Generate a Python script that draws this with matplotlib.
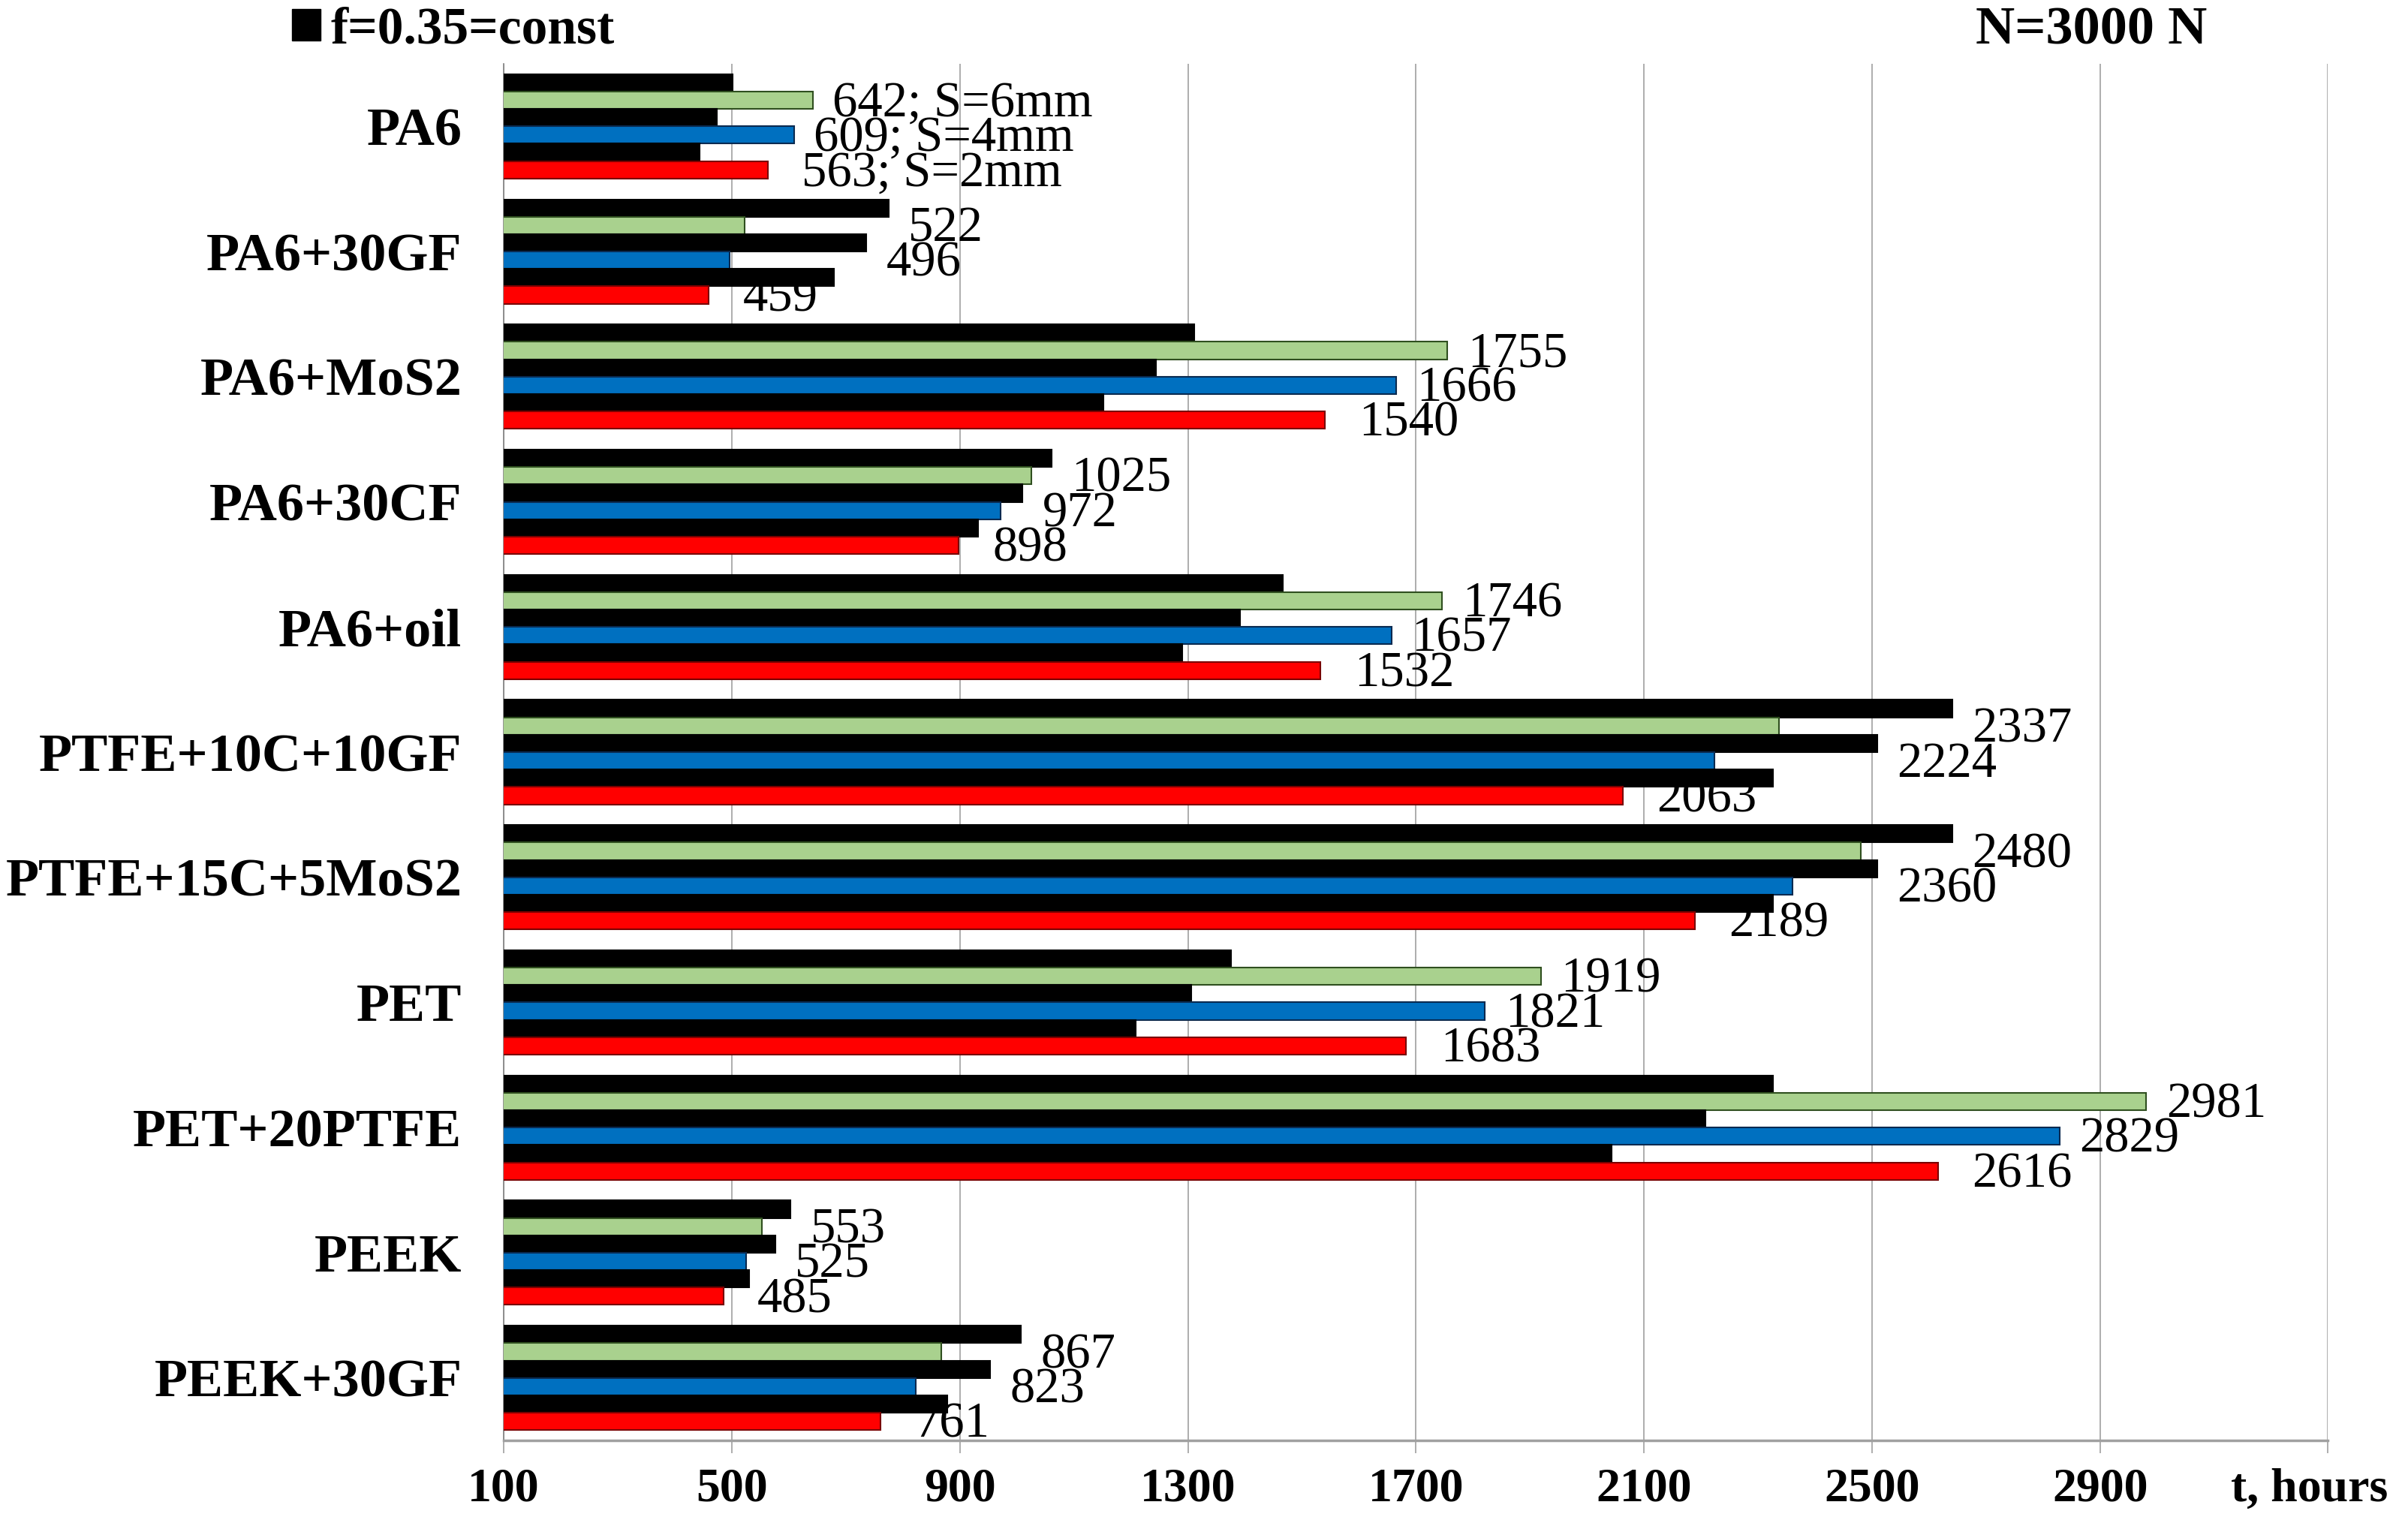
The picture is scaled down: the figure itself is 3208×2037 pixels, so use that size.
import numpy as np
import matplotlib.pyplot as plt
from matplotlib.patches import Patch

plt.rcParams['font.family'] = ['Liberation Serif', 'DejaVu Serif']

# Data (t, hours)
materials = ['PA6', 'PA6+30GF', 'PA6+MoS2', 'PA6+30CF', 'PA6+oil', 'PTFE+10C+10GF',
             'PTFE+15C+5MoS2', 'PET', 'PET+20PTFE', 'PEEK', 'PEEK+30GF']
s6 = [642, 522, 1755, 1025, 1746, 2337, 2480, 1919, 2981, 553, 867]
s4 = [609, 496, 1666, 972, 1657, 2224, 2360, 1821, 2829, 525, 823]
s2 = [563, 459, 1540, 898, 1532, 2063, 2189, 1683, 2616, 485, 761]
# f=0.35=const series (black bars, unlabelled), one above each coloured bar
f_s6 = [502, 775, 1311, 1061, 1467, 2641, 2641, 1376, 2326, 603, 1007]
f_s4 = [474, 736, 1244, 1010, 1392, 2509, 2509, 1306, 2208, 576, 953]
f_s2 = [443, 679, 1152, 932, 1290, 2326, 2326, 1209, 2043, 531, 878]
series_names = ['S=6mm', 'S=4mm', 'S=2mm']
xticks = list(range(100, 3301, 400))

fig = plt.figure(figsize=(32.08, 20.37), dpi=100)
ax = fig.add_axes([0.2092, 0.0579, 0.9668 - 0.2092, 0.9583 - 0.0579])

y = np.arange(len(materials))
h = 0.139
rows = [
    (f_s6, '#000000', '#000000'),
    (s6, '#A9D18E', '#2F4F1F'),
    (f_s4, '#000000', '#000000'),
    (s4, '#0070C0', '#0A2A50'),
    (f_s2, '#000000', '#000000'),
    (s2, '#FF0000', '#7A0000'),
]
for i, (vals, col, ec) in enumerate(rows):
    ax.barh(y + (i - 2.5) * h, vals, height=h, color=col, edgecolor=ec,
            linewidth=1.5, zorder=3)

# value labels
for k, (vals, above, name, pad) in enumerate([(s6, f_s6, series_names[0], 35),
                                               (s4, f_s4, series_names[1], 35),
                                               (s2, f_s2, series_names[2], 60)]):
    off = (2 * k - 1.5) * h
    for j in range(len(materials)):
        if k < 2:
            xpos = max(vals[j], above[j]) + pad
        else:
            xpos = vals[j] + pad
        txt = str(vals[j])
        if j == 0:
            txt += '; ' + name
        ax.text(xpos, y[j] + off + 0.2 * h, txt, ha='left', va='center',
                fontsize=48, zorder=4)

ax.set_xlim(100, 3300)
ax.set_ylim(len(materials) - 0.5, -0.5)
ax.set_xticks(xticks)
ax.set_xticklabels([str(t) for t in xticks[:-1]] + [''], fontweight='bold', fontsize=46)
ax.set_yticks(y)
ax.set_yticklabels(materials, fontweight='bold', fontsize=52)
ax.tick_params(axis='y', length=0, pad=40)
ax.tick_params(axis='x', length=12, width=1.2, color='#A0A0A0', pad=14)
ax.grid(axis='x', color='#A0A0A0', linewidth=1.2, zorder=0)
for sp in ['top', 'right']:
    ax.spines[sp].set_visible(False)
ax.spines['left'].set_color('#808080')
ax.spines['left'].set_linewidth(1.2)
ax.spines['bottom'].set_color('#A0A0A0')
ax.spines['bottom'].set_linewidth(2.5)

fig.text(0.959, 0.0255, 't, hours', ha='center', va='center', fontsize=46,
         fontweight='bold')
fig.text(0.8685, 0.980, 'N=3000 N', ha='center', va='center', fontsize=52,
         fontweight='bold')
fig.legend(handles=[Patch(facecolor='black', edgecolor='black')], labels=['f=0.35=const'],
           loc='center left', bbox_to_anchor=(0.1212, 0.980), frameon=False,
           prop={'weight': 'bold', 'size': 50}, handlelength=0.55, handleheight=0.55,
           handletextpad=0.2, borderpad=0, borderaxespad=0)

fig.savefig('out.png', dpi=100)
